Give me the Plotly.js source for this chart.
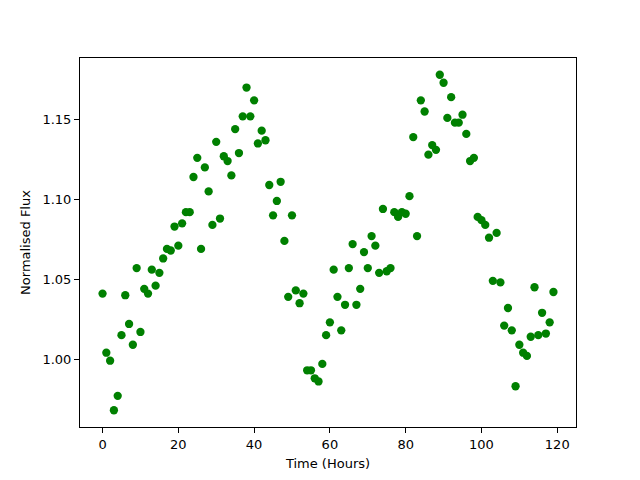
<!DOCTYPE html>
<html>
<head>
<meta charset="utf-8">
<script src="https://cdn.plot.ly/plotly-3.0.1.min.js"></script>
<style>html,body{margin:0;padding:0;background:#fff}#chart{width:640px;height:480px}</style>
</head>
<body>
<div id="chart"></div>
<script>
var hours = [];
for (var i = 0; i < 120; i++) hours.push(i);
var flux = [
1.041,1.004,0.999,0.968,0.977,1.015,1.040,1.022,1.009,1.057,
1.017,1.044,1.041,1.056,1.046,1.054,1.063,1.069,1.068,1.083,
1.071,1.085,1.092,1.092,1.114,1.126,1.069,1.120,1.105,1.084,
1.136,1.088,1.127,1.124,1.115,1.144,1.129,1.152,1.170,1.152,
1.162,1.135,1.143,1.137,1.109,1.090,1.099,1.111,1.074,1.039,
1.090,1.043,1.035,1.041,0.993,0.993,0.988,0.986,0.997,1.015,
1.023,1.056,1.039,1.018,1.034,1.057,1.072,1.034,1.044,1.067,
1.057,1.077,1.071,1.054,1.094,1.055,1.057,1.092,1.089,1.092,
1.091,1.102,1.139,1.077,1.162,1.155,1.128,1.134,1.131,1.178,
1.173,1.151,1.164,1.148,1.148,1.153,1.141,1.124,1.126,1.089,
1.087,1.084,1.076,1.049,1.079,1.048,1.021,1.032,1.018,0.983,
1.009,1.004,1.002,1.014,1.045,1.015,1.029,1.016,1.023,1.042
];
var xTicks = [0, 20, 40, 60, 80, 100, 120];
var yTicks = [1.00, 1.05, 1.10, 1.15];
var yTickText = ['1.00', '1.05', '1.10', '1.15'];

var trace = {
  x: hours, y: flux, type: 'scatter', mode: 'markers',
  marker: {color: '#008000', size: 8.3}
};
var axisCommon = {
  showgrid: false, zeroline: false, showline: true, mirror: true,
  linecolor: '#000', linewidth: 1, ticks: 'outside', ticklen: 5,
  tickcolor: '#000', tickfont: {family: 'DejaVu Sans', size: 13, color: '#000'}
};
var layout = {
  width: 640, height: 480,
  margin: {l: 80, r: 64, t: 58, b: 53, pad: 0},
  paper_bgcolor: '#fff', plot_bgcolor: '#fff',
  showlegend: false,
  font: {family: 'DejaVu Sans', size: 13, color: '#000'},
  xaxis: Object.assign({}, axisCommon, {
    range: [-5.95, 124.95], tickvals: xTicks, ticktext: xTicks.map(String),
    title: {text: 'Time (Hours)', font: {family: 'DejaVu Sans', size: 13, color: '#000'}, standoff: 8}
  }),
  yaxis: Object.assign({}, axisCommon, {
    range: [0.9575, 1.1885], tickvals: yTicks, ticktext: yTickText,
    title: {text: 'Normalised Flux', font: {family: 'DejaVu Sans', size: 13, color: '#000'}, standoff: 8}
  })
};
Plotly.newPlot('chart', [trace], layout, {displayModeBar: false, staticPlot: true});
</script>
</body>
</html>
